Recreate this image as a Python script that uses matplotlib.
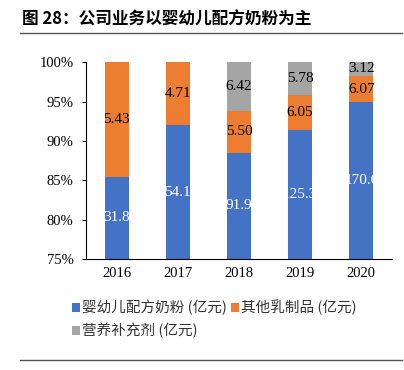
import matplotlib
matplotlib.use("Agg")
import matplotlib.pyplot as plt
import numpy as np

years = ["2016", "2017", "2018", "2019", "2020"]
formula = [31.8, 54.1, 91.9, 125.3, 170.6]     # 婴幼儿配方奶粉 (亿元)
other_dairy = [5.43, 4.71, 5.50, 6.05, 6.07]   # 其他乳制品 (亿元)
supplements = [0.0, 0.0, 6.42, 5.78, 3.12]     # 营养补充剂 (亿元)
y_ticks = [0.75, 0.80, 0.85, 0.90, 0.95, 1.00]

CJK = ["Noto Sans CJK SC", "DejaVu Sans"]
SERIF = ["Liberation Serif", "Noto Sans CJK SC"]

f = np.array(formula)
o = np.array(other_dairy)
s = np.array(supplements)
tot = f + o + s
pf, po, ps = f / tot, o / tot, s / tot

fig = plt.figure(figsize=(4.04, 3.70), dpi=100)
ax = fig.add_axes([0.213, 0.30, 0.757, 0.532])

x = np.arange(len(years))
w = 0.39
colors = ["#4472C4", "#ED7D31", "#A5A5A5"]
names = ["婴幼儿配方奶粉 (亿元)", "其他乳制品 (亿元)", "营养补充剂 (亿元)"]

b1 = ax.bar(x, pf, w, color=colors[0], label=names[0])
b2 = ax.bar(x, po, w, bottom=pf, color=colors[1], label=names[1])
b3 = ax.bar(x, ps, w, bottom=pf + po, color=colors[2], label=names[2])

# value labels, clipped to their bar like the source
def put_labels(bars, bottoms, shares, vals, color, fmt):
    for bar, b, sh, v in zip(bars, bottoms, shares, vals):
        if v <= 0:
            continue
        yc = max(b + sh / 2, 0.75 + (b + sh - 0.75) / 2)
        t = ax.text(bar.get_x() + bar.get_width() / 2, yc, fmt.format(v),
                    ha="center", va="center", color=color, fontsize=11,
                    family=SERIF)
        t.set_clip_path(bar)

put_labels(b1, np.zeros(5), pf, formula, "white", "{:.1f}")
put_labels(b2, pf, po, other_dairy, "black", "{:.2f}")
put_labels(b3, pf + po, ps, supplements, "black", "{:.2f}")

ax.set_ylim(0.75, 1.0)
ax.set_xlim(-0.5, 4.5)
ax.set_yticks(y_ticks)
ax.set_yticklabels([f"{int(round(t * 100))}%" for t in y_ticks],
                   fontsize=10.5, family=SERIF)
ax.set_xticks(x)
ax.set_xticklabels(years, fontsize=10.5, family=SERIF)
ax.tick_params(axis="x", length=0, pad=6)
ax.tick_params(axis="y", length=3, width=0.8, pad=6)
for sp in ["top", "right"]:
    ax.spines[sp].set_visible(False)
ax.spines["left"].set_linewidth(0.8)
ax.spines["bottom"].set_linewidth(0.8)

# row-wise order: b1, b2 on the first line, b3 on the second
leg = fig.legend(handles=[b1, b3, b2], labels=[names[0], names[2], names[1]],
                 ncol=2, loc="upper left", bbox_to_anchor=(0.145, 0.225),
                 frameon=False, handlelength=0.55, handleheight=0.55,
                 handletextpad=0.15, columnspacing=0.3, labelspacing=0.5,
                 prop={"family": CJK, "size": 10.5})
for t in leg.get_texts():
    t.set_color("#333333")

# title and rules
fig.text(0.054, 0.948, "图 28：公司业务以婴幼儿配方奶粉为主", fontsize=12,
         fontweight="bold", family=CJK, va="center", ha="left")
fig.add_artist(plt.Line2D([0.05, 0.995], [0.911, 0.911], color="#555555", lw=1))
fig.add_artist(plt.Line2D([0.05, 0.995], [0.028, 0.028], color="#555555", lw=1))
fig.text(0.06, -0.028, "资料来源：公司招股说明书，公司年报，华西证券研究所",
         fontsize=9, family=CJK, va="center", ha="left", color="#333333")

fig.savefig("out.png", dpi=100)
